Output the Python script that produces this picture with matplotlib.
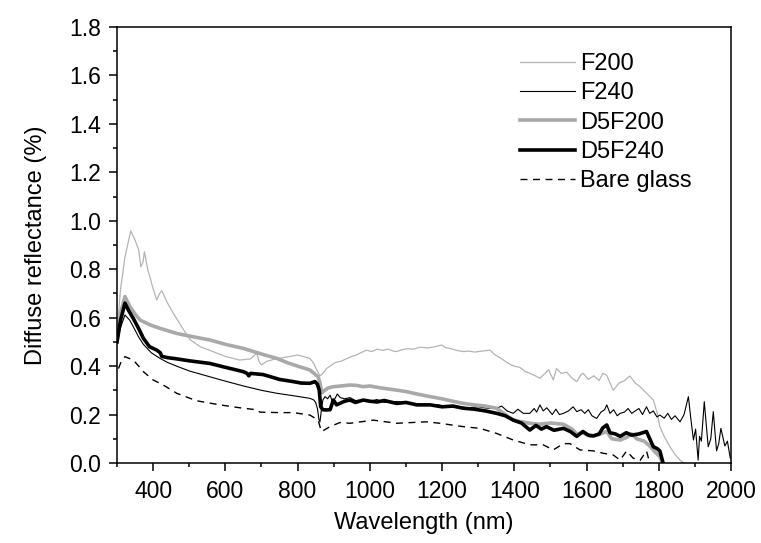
import matplotlib
matplotlib.use("Agg")
import matplotlib.pyplot as plt
from matplotlib.ticker import MultipleLocator

plt.rcParams['font.family'] = ['Liberation Sans', 'DejaVu Sans']

f200_x = [300, 310, 322, 338, 350, 360, 366, 372, 376, 385, 400, 410, 418, 424, 440, 456, 480, 502, 530, 557,
          600, 640, 670, 680, 687, 693, 700, 715, 740, 780, 800, 834, 845, 853, 862, 870, 880, 890, 905, 920,
          935, 950, 963, 975, 991, 1005, 1020, 1035, 1050, 1065, 1074, 1090, 1105, 1120, 1140, 1160, 1180, 1199,
          1210, 1225, 1240, 1259, 1275, 1290, 1310, 1333, 1345, 1360, 1370, 1385, 1400, 1415, 1430, 1443, 1458,
          1471, 1485, 1495, 1508, 1517, 1530, 1545, 1560, 1573, 1585, 1591, 1605, 1620, 1635, 1645, 1656, 1665,
          1674, 1690, 1705, 1720, 1735, 1748, 1765, 1785, 1795, 1803, 1815, 1831, 1845, 1859, 1870]
f200_y = [0.54, 0.72, 0.85, 0.958, 0.92, 0.88, 0.81, 0.83, 0.872, 0.80, 0.72, 0.673, 0.70, 0.711, 0.66, 0.618,
          0.56, 0.51, 0.48, 0.465, 0.44, 0.425, 0.43, 0.445, 0.453, 0.42, 0.405, 0.42, 0.43, 0.44, 0.446, 0.432,
          0.41, 0.384, 0.36, 0.37, 0.39, 0.40, 0.415, 0.42, 0.43, 0.44, 0.446, 0.455, 0.466, 0.46, 0.47, 0.465,
          0.47, 0.462, 0.46, 0.468, 0.472, 0.47, 0.478, 0.475, 0.48, 0.487, 0.476, 0.472, 0.465, 0.46, 0.462,
          0.458, 0.462, 0.466, 0.448, 0.435, 0.425, 0.41, 0.40, 0.395, 0.378, 0.37, 0.36, 0.35, 0.37, 0.385,
          0.343, 0.39, 0.37, 0.375, 0.35, 0.336, 0.365, 0.37, 0.345, 0.36, 0.34, 0.37, 0.363, 0.33, 0.30, 0.33,
          0.34, 0.359, 0.33, 0.315, 0.29, 0.26, 0.21, 0.15, 0.11, 0.067, 0.035, 0.012, 0.0]

f240_x = [300, 310, 322, 335, 345, 360, 373, 395, 419, 440, 465, 500, 557, 600, 650, 700, 742, 800, 834, 845,
          850, 855, 859, 862, 866, 870, 876, 883, 890, 897, 905, 910, 918, 930, 945, 960, 982, 1000, 1020, 1040,
          1074, 1100, 1130, 1160, 1190, 1213, 1240, 1270, 1300, 1330, 1351, 1365, 1380, 1397, 1410, 1425, 1443,
          1455, 1462, 1471, 1480, 1490, 1505, 1515, 1525, 1536, 1550, 1563, 1573, 1585, 1595, 1605, 1615, 1628,
          1640, 1650, 1656, 1665, 1675, 1685, 1693, 1705, 1715, 1725, 1735, 1745, 1755, 1766, 1775, 1785, 1795,
          1803, 1815, 1825, 1835, 1845, 1859, 1870, 1882, 1889, 1896, 1902, 1909, 1913, 1918, 1926, 1932, 1937,
          1944, 1951, 1956, 1960, 1966, 1972, 1977, 1983, 1990, 1998]
f240_y = [0.495, 0.56, 0.611, 0.59, 0.563, 0.52, 0.49, 0.455, 0.432, 0.415, 0.40, 0.38, 0.356, 0.338, 0.318,
          0.30, 0.288, 0.275, 0.267, 0.26, 0.25, 0.225, 0.18, 0.17, 0.22, 0.26, 0.274, 0.265, 0.28, 0.25, 0.27,
          0.285, 0.27, 0.265, 0.27, 0.258, 0.26, 0.255, 0.262, 0.25, 0.254, 0.248, 0.245, 0.238, 0.24, 0.232,
          0.235, 0.228, 0.232, 0.225, 0.226, 0.235, 0.215, 0.205, 0.222, 0.205, 0.205, 0.225, 0.21, 0.24, 0.215,
          0.228, 0.20, 0.222, 0.20, 0.205, 0.215, 0.232, 0.212, 0.22, 0.205, 0.22, 0.195, 0.184, 0.21, 0.22,
          0.24, 0.205, 0.22, 0.195, 0.205, 0.21, 0.225, 0.205, 0.215, 0.225, 0.20, 0.232, 0.205, 0.215, 0.19,
          0.198, 0.185, 0.205, 0.18, 0.195, 0.17, 0.20, 0.274, 0.18, 0.095, 0.14, 0.012, 0.11, 0.09, 0.253,
          0.15, 0.067, 0.10, 0.212, 0.12, 0.05, 0.08, 0.143, 0.11, 0.07, 0.09, 0.02]

d5f200_x = [300, 310, 322, 336, 350, 364, 392, 419, 465, 511, 557, 600, 650, 700, 742, 770, 800, 834, 857, 862,
            867, 875, 885, 899, 920, 945, 965, 982, 1000, 1030, 1074, 1100, 1130, 1167, 1200, 1230, 1259, 1290,
            1320, 1351, 1375, 1397, 1420, 1443, 1470, 1500, 1536, 1560, 1573, 1590, 1610, 1630, 1656, 1670, 1693,
            1710, 1725, 1739, 1760, 1775, 1790, 1803, 1810]
d5f200_y = [0.50, 0.62, 0.687, 0.645, 0.615, 0.59, 0.57, 0.556, 0.535, 0.521, 0.508, 0.49, 0.473, 0.45, 0.432,
            0.415, 0.40, 0.384, 0.356, 0.33, 0.29, 0.30, 0.31, 0.315, 0.318, 0.322, 0.32, 0.315, 0.318, 0.31,
            0.301, 0.295, 0.285, 0.274, 0.265, 0.255, 0.246, 0.24, 0.235, 0.226, 0.20, 0.177, 0.17, 0.164, 0.16,
            0.165, 0.16, 0.14, 0.12, 0.125, 0.11, 0.115, 0.13, 0.10, 0.095, 0.105, 0.12, 0.10, 0.09, 0.07, 0.045,
            0.026, 0.0]

d5f240_x = [300, 310, 322, 332, 345, 360, 373, 390, 410, 420, 424, 440, 465, 500, 557, 600, 650, 660, 665, 670,
            705, 750, 788, 810, 834, 848, 855, 860, 864, 870, 880, 890, 899, 908, 917, 930, 945, 960, 982, 1000,
            1020, 1040, 1074, 1100, 1130, 1167, 1200, 1230, 1259, 1290, 1320, 1351, 1375, 1397, 1420, 1443, 1460,
            1475, 1489, 1510, 1536, 1555, 1573, 1590, 1605, 1619, 1635, 1645, 1656, 1665, 1680, 1693, 1710, 1725,
            1745, 1766, 1775, 1785, 1795, 1803, 1812]
d5f240_y = [0.50, 0.59, 0.66, 0.63, 0.597, 0.555, 0.515, 0.48, 0.466, 0.455, 0.44, 0.435, 0.43, 0.422, 0.411,
            0.395, 0.377, 0.37, 0.36, 0.37, 0.365, 0.345, 0.336, 0.33, 0.329, 0.336, 0.325, 0.30, 0.232, 0.22,
            0.219, 0.22, 0.26, 0.24, 0.246, 0.255, 0.26, 0.25, 0.26, 0.255, 0.252, 0.258, 0.246, 0.25, 0.24, 0.24,
            0.232, 0.235, 0.226, 0.222, 0.215, 0.205, 0.195, 0.177, 0.165, 0.136, 0.155, 0.14, 0.15, 0.135, 0.143,
            0.13, 0.11, 0.13, 0.115, 0.112, 0.12, 0.145, 0.157, 0.125, 0.12, 0.11, 0.125, 0.115, 0.12, 0.13, 0.10,
            0.067, 0.06, 0.05, 0.0]

glass_x = [304, 312, 322, 345, 360, 373, 400, 428, 465, 520, 585, 640, 668, 685, 696, 750, 788, 834, 857, 862,
           867, 878, 890, 917, 945, 1010, 1074, 1157, 1194, 1259, 1305, 1351, 1397, 1443, 1480, 1508, 1536, 1554,
           1582, 1619, 1647, 1674, 1693, 1711, 1729, 1748, 1766, 1775]
glass_y = [0.39, 0.42, 0.439, 0.425, 0.40, 0.377, 0.343, 0.322, 0.288, 0.257, 0.24, 0.228, 0.223, 0.22, 0.21,
           0.208, 0.208, 0.198, 0.177, 0.15, 0.13, 0.14, 0.15, 0.167, 0.164, 0.177, 0.164, 0.17, 0.164, 0.15,
           0.143, 0.122, 0.095, 0.075, 0.075, 0.054, 0.08, 0.08, 0.054, 0.05, 0.04, 0.033, 0.012, 0.05, 0.02,
           0.01, 0.05, 0.0]

fig = plt.figure(figsize=(7.61, 5.43), dpi=100)
ax = fig.add_axes([117/761, 1-463/543, 614/761, 436/543])

ax.plot(f200_x, f200_y, color='#b4b4b4', lw=0.9, label='F200')
ax.plot(f240_x, f240_y, color='black', lw=0.8, label='F240')
ax.plot(d5f200_x, d5f200_y, color='#a9a9a9', lw=2.6, label='D5F200')
ax.plot(d5f240_x, d5f240_y, color='black', lw=2.6, label='D5F240')
ax.plot(glass_x, glass_y, color='black', lw=1.0, ls=(0, (5, 4)), label='Bare glass')

ax.set_xlim(300, 2000)
ax.set_ylim(0, 1.8)
ax.xaxis.set_minor_locator(MultipleLocator(100))
ax.yaxis.set_minor_locator(MultipleLocator(0.1))
ax.set_xticks([400, 600, 800, 1000, 1200, 1400, 1600, 1800, 2000])
ax.set_yticks([0.0, 0.2, 0.4, 0.6, 0.8, 1.0, 1.2, 1.4, 1.6, 1.8])
ax.set_yticklabels(['0.0', '0.2', '0.4', '0.6', '0.8', '1.0', '1.2', '1.4', '1.6', '1.8'])

ax.tick_params(which='major', direction='out', length=5.5, width=1.1, labelsize=16.5)
ax.tick_params(axis='y', which='major', pad=6)
ax.tick_params(axis='x', which='major', pad=6.5)
ax.tick_params(which='minor', direction='out', length=3, width=1.1)
for s in ax.spines.values():
    s.set_linewidth(1.1)

ax.set_xlabel('Wavelength (nm)', fontsize=17, labelpad=7)
ax.set_ylabel('Diffuse reflectance (%)', fontsize=17, labelpad=16)

ax.legend(loc='upper left', bbox_to_anchor=((520-117)/614, (463-53)/436), frameon=False,
          fontsize=17, handlelength=2.35, handletextpad=0.2, labelspacing=0.31, borderpad=0,
          borderaxespad=0)

fig.savefig('out.png', dpi=100)
